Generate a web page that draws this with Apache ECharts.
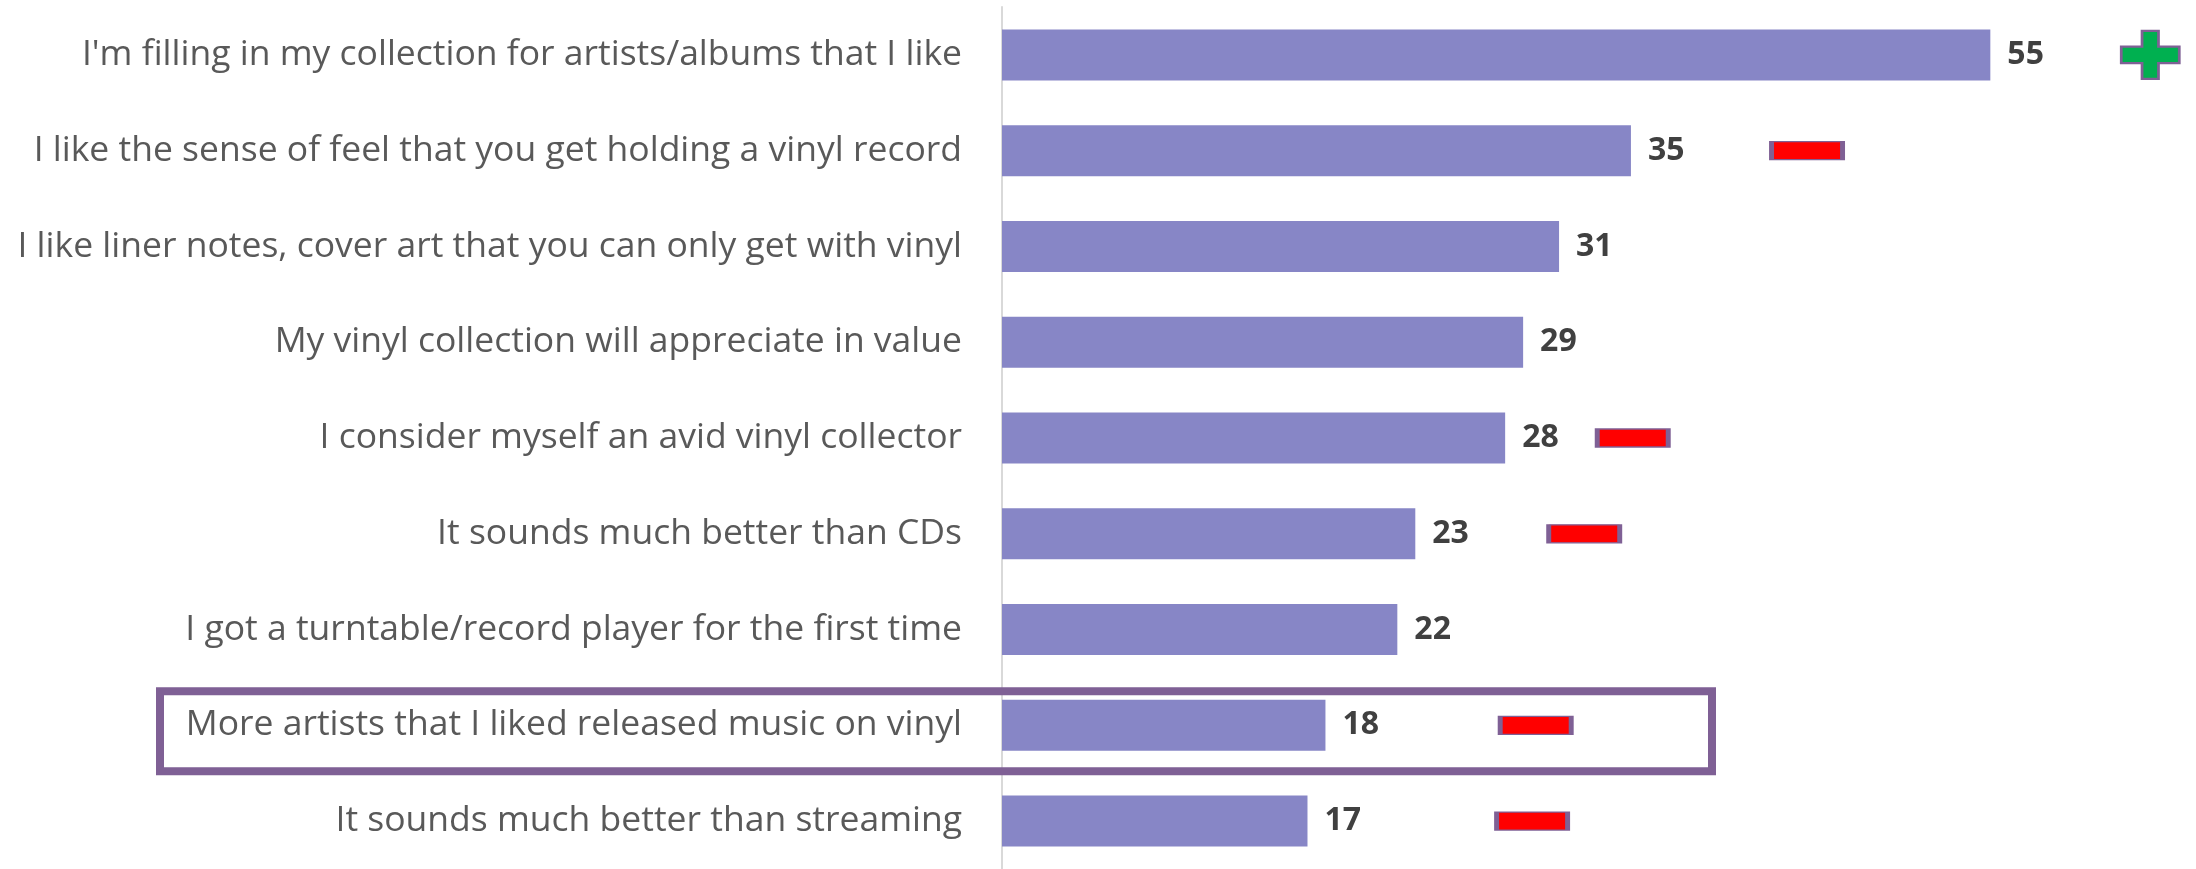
<!DOCTYPE html>
<html>
<head>
<meta charset="utf-8">
<script src="https://cdn.jsdelivr.net/npm/echarts@6/dist/echarts.min.js"></script>
<style>
  html, body { margin: 0; padding: 0; background: #fff; }
  #chart { width: 2196px; height: 869px; }
</style>
</head>
<body>
<div id="chart"></div>
<script>
// reasons for buying vinyl
var categories = [
    "I'm filling in my collection for artists/albums that I like",
    'I like the sense of feel that you get holding a vinyl record',
    'I like liner notes, cover art that you can only get with vinyl',
    'My vinyl collection will appreciate in value',
    'I consider myself an avid vinyl collector',
    'It sounds much better than CDs',
    'I got a turntable/record player for the first time',
    'More artists that I liked released music on vinyl',
    'It sounds much better than streaming'
];
var values = [55, 35, 31, 29, 28, 23, 22, 18, 17];
// change markers (x position on the value scale), null = no marker
var upMarkers = [63.9, null, null, null, null, null, null, null, null];
var downMarkers = [null, 44.8, null, null, 35.1, 32.4, null, 29.7, 29.5];
var highlightIndex = 7;

function toPoints(arr){
    var out = [];
    for (var i = 0; i < arr.length; i++) {
        if (arr[i] != null) out.push([arr[i], categories[i]]);
    }
    return out;
}

var chart = echarts.init(document.getElementById('chart'));
var font = "'Open Sans', 'Noto Sans', sans-serif";
var option = {
    animation: false,
    grid: {
        left: 1002,
        top: 7,
        width: 1186,
        height: 868
    },
    xAxis: {
        type: 'value',
        min: 0,
        max: 66,
        show: false
    },
    yAxis: {
        type: 'category',
        inverse: true,
        data: categories,
        axisLine: {
            show: true,
            lineStyle: { color: '#d9d9d9', width: 2 }
        },
        axisTick: { show: false },
        axisLabel: {
            margin: 40,
            color: '#595959',
            fontSize: 35.5,
            fontFamily: font
        }
    },
    series: [{
        type: 'bar',
        data: values,
        barWidth: 51,
        itemStyle: { color: '#8786C6' },
        label: {
            show: true,
            position: 'right',
            distance: 17,
            color: '#404040',
            fontSize: 32,
            fontWeight: 'bold',
            fontFamily: font
        }
    }, {
        type: 'scatter',
        data: toPoints(downMarkers),
        symbol: 'rect',
        symbolSize: [71, 18],
        itemStyle: {
            color: '#FF0000',
            borderColor: '#7F6095',
            borderWidth: 2.5,
            opacity: 1
        },
        z: 5
    }, {
        type: 'scatter',
        data: toPoints(upMarkers),
        symbol: 'path://M21.5,0 H38.5 V16.5 H60 V33.5 H38.5 V50 H21.5 V33.5 H0 V16.5 H21.5 Z',
        symbolSize: [58, 48],
        symbolKeepAspect: false,
        itemStyle: {
            color: '#00B050',
            borderColor: '#7F6095',
            borderWidth: 2.5,
            opacity: 1
        },
        z: 5
    }]
};
chart.setOption(option, true);

// highlight box round one row
var yc = chart.convertToPixel({ yAxisIndex: 0 }, categories[highlightIndex]);
chart.setOption({
    graphic: [{
        type: 'rect',
        shape: { x: 160, y: yc - 34, width: 1552, height: 80 },
        style: { fill: 'none', stroke: '#7F6095', lineWidth: 8 },
        z: 10
    }]
});
</script>
</body>
</html>
